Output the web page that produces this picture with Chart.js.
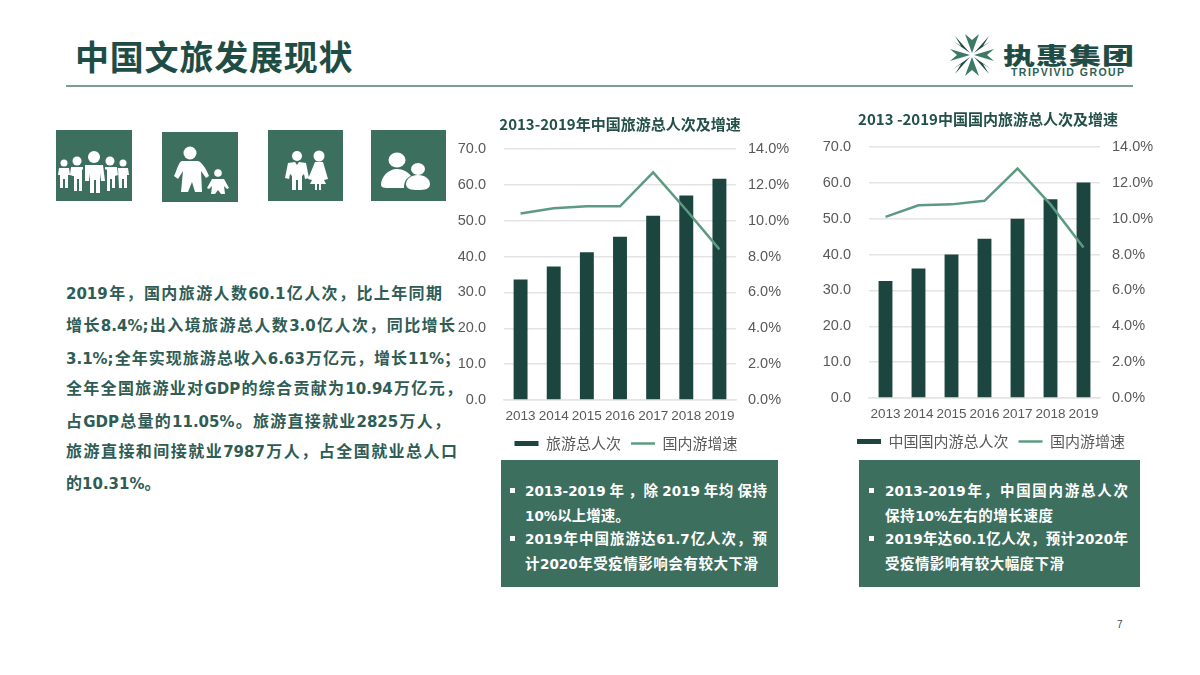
<!DOCTYPE html>
<html>
<head>
<meta charset="utf-8">
<script src="https://cdn.jsdelivr.net/npm/chart.js@4"></script>
<style>
html, body { margin: 0; padding: 0; background: #fff; }
body { position: relative; width: 1200px; height: 675px; overflow: hidden; font-family: "Noto Sans CJK SC", sans-serif; }
.abs { position: absolute; }
#title { left: 75px; top: 32px; font-size: 34px; line-height: 48px; font-weight: 700; color: #1f4d46; letter-spacing: .8px; white-space: nowrap; }
#rule { left: 66px; top: 85px; width: 1067px; height: 2px; background: #7d9c93; }
.icon { background: #3d6f5f; }
.icon svg { display: block; width: 100%; height: 100%; fill: #fff; }
.body-line { position: absolute; left: 66px; height: 22px; line-height: 22px; font-size: 16px; font-weight: 700; color: #2f5c54; white-space: nowrap; text-align: justify; text-align-last: justify; }
.body-line b { font-family: "DejaVu Sans", sans-serif; font-size: 15px; }
.box { position: absolute; top: 460px; height: 127px; background: #3d6f5f; }
.box-line { position: absolute; height: 20px; line-height: 20px; font-size: 14.5px; font-weight: 700; color: #fff; white-space: nowrap; text-align: justify; text-align-last: justify; }
.box-line b { font-family: "DejaVu Sans", sans-serif; font-size: 13.5px; }
.bullet { position: absolute; width: 5px; height: 5px; background: #fff; }
.chart-wrap { position: absolute; }
#logo-cn { left: 1003px; top: 33px; font-size: 32px; line-height: 42px; font-weight: 900; color: #1f4d46; letter-spacing: 1px; white-space: nowrap; transform: scaleY(.72); transform-origin: center; }
#logo-en { left: 1011px; top: 65px; font-family: "Liberation Sans", sans-serif; font-size: 10.5px; line-height: 14px; font-weight: 700; letter-spacing: 1.45px; color: #2e5f55; white-space: nowrap; }
#page { left: 1117px; top: 618px; font-family: "Liberation Sans", sans-serif; font-size: 10px; line-height: 14px; color: #444; }
</style>
</head>
<body>
<div id="title" class="abs">中国文旅发展现状</div>
<div id="rule" class="abs"></div>

<svg class="abs" style="left:949px;top:32px;width:46px;height:46px" viewBox="-23 -23 46 46">
  <g fill="#3d7a66">
    <path d="M0 -2 L-7 -21 L0 -15 L7 -21 Z"/>
    <path d="M0 2 L-7 21 L0 15 L7 21 Z"/>
    <path d="M-2 0 L-22 -6 L-15 0 L-22 6 Z"/>
    <path d="M2 0 L22 -6 L15 0 L22 6 Z"/>
  </g>
  <g fill="#1f4d46">
    <path d="M-2 -2 L-17 -19 L-11 -9 L-19 -14 Z"/>
    <path d="M2 -2 L17 -19 L11 -9 L19 -14 Z"/>
    <path d="M-2 2 L-17 19 L-11 9 L-19 14 Z"/>
    <path d="M2 2 L17 19 L11 9 L19 14 Z"/>
  </g>
</svg>
<div id="logo-cn" class="abs">执惠集团</div>
<div id="logo-en" class="abs">TRIPVIVID GROUP</div>

<div class="abs icon" style="left:56px;top:130px;width:76px;height:71px">
  <svg viewBox="0 0 76 71">
    <circle cx="38" cy="27" r="6"/><path d="M29 35h18l2 16h-4l-1-8v20h-4V50h-2v13h-4V43l-1 8h-4z"/>
    <circle cx="21" cy="31" r="4.5"/><path d="M15 37h12v2l-1 1v21h-3V49h-2v12h-3V46l-1 0-3-1z"/>
    <circle cx="54" cy="31" r="4.5"/><path d="M49 37h12l1 8-3 1v12h-3V49h-2v12h-3V40l-2-1z"/>
    <circle cx="8" cy="33" r="3.5"/><path d="M3 38h10l1 7h-2v13H9V49H7v9H4V45H2z"/>
    <circle cx="67" cy="33" r="3.5"/><path d="M62 38h10l1 7h-2v13h-3V49h-2v9h-3z"/>
  </svg>
</div>
<div class="abs icon" style="left:162px;top:132px;width:76px;height:70px">
  <svg viewBox="0 0 76 70">
    <circle cx="28" cy="21" r="6.5"/><path d="M20 29h16c3 0 9 9 11 15l-3 2-5-7 1 21h-7l-3-10-4 10h-7l2-21-5 8-4-3c3-6 5-15 8-15z"/>
    <circle cx="56" cy="41" r="3.8"/><path d="M50 47h12l5 9-2 1-3-3 1 8h-4l-3-4-3 4h-4l1-8-3 3-2-1z"/>
  </svg>
</div>
<div class="abs icon" style="left:268px;top:130px;width:75px;height:71px">
  <svg viewBox="0 0 75 71">
    <circle cx="29" cy="26" r="5"/><path d="M20 33l7-1 2 3 2-3 7 1 3 15-4 1-1-5-2 2v14h-4V50h-2v10h-4V46l-2-2-1 5-4-1z"/>
    <circle cx="51" cy="26" r="5.5"/><path d="M47 32h8l5 17-4 1 2 4-5 0v6h-2v-6h-2v6h-2v-6h-5l2-4-4-1z"/>
  </svg>
</div>
<div class="abs icon" style="left:371px;top:130px;width:75px;height:71px">
  <svg viewBox="0 0 75 71">
    <ellipse cx="26" cy="30" rx="8.5" ry="7.5"/><path d="M10 55c0-8 7-16 16-16 6 0 11 3 14 7-5 2-7 6-7 12H16c-4 0-6-1-6-3z"/>
    <ellipse cx="47" cy="39" rx="7" ry="6"/><path d="M35 54c0-5 5-9 12-9s12 4 12 9-5 6-12 6-12-1-12-6z"/>
  </svg>
</div>

<div class="body-line" style="top:281px;width:376px"><b>2019</b>年，国内旅游人数<b>60.1</b>亿人次，比上年同期</div>
<div class="body-line" style="top:313px;width:389px">增长<b>8.4%;</b>出入境旅游总人数<b>3.0</b>亿人次，同比增长</div>
<div class="body-line" style="top:346px;width:394px"><b>3.1%;</b>全年实现旅游总收入<b>6.63</b>万亿元，增长<b>11%</b>；</div>
<div class="body-line" style="top:376px;width:396px">全年全国旅游业对<b>GDP</b>的综合贡献为<b>10.94</b>万亿元，</div>
<div class="body-line" style="top:409px;width:384px">占<b>GDP</b>总量的<b>11.05%</b>。旅游直接就业<b>2825</b>万人，</div>
<div class="body-line" style="top:439px;width:391px">旅游直接和间接就业<b>7987</b>万人，占全国就业总人口</div>
<div class="body-line" style="top:471px;width:90px">的<b>10.31%</b>。</div>

<div class="chart-wrap" style="left:450px;top:105px;width:340px;height:356px"><canvas id="chartTotal"></canvas></div>
<div class="chart-wrap" style="left:815px;top:103px;width:346px;height:356px"><canvas id="chartDomestic"></canvas></div>

<div class="box" style="left:501px;width:277px"></div>
<div class="bullet" style="left:510px;top:488px"></div>
<div class="box-line" style="left:525px;top:480px;width:242px"><b>2013-2019</b> 年 ，除 <b>2019</b> 年均 保持</div>
<div class="box-line" style="left:525px;top:505px;width:100px"><b>10%</b>以上增速。</div>
<div class="bullet" style="left:510px;top:536px"></div>
<div class="box-line" style="left:525px;top:528px;width:242px"><b>2019</b>年中国旅游达<b>61.7</b>亿人次，预</div>
<div class="box-line" style="left:525px;top:553px;width:233px">计<b>2020</b>年受疫情影响会有较大下滑</div>

<div class="box" style="left:859px;width:281px"></div>
<div class="bullet" style="left:869px;top:488px"></div>
<div class="box-line" style="left:885px;top:480px;width:243px"><b>2013-2019</b>年，中国国内游总人次</div>
<div class="box-line" style="left:885px;top:505px;width:168px">保持<b>10%</b>左右的增长速度</div>
<div class="bullet" style="left:869px;top:536px"></div>
<div class="box-line" style="left:885px;top:528px;width:243px"><b>2019</b>年达<b>60.1</b>亿人次，预计<b>2020</b>年</div>
<div class="box-line" style="left:885px;top:553px;width:179px">受疫情影响有较大幅度下滑</div>

<div id="page" class="abs">7</div>

<script>
const years = ['2013', '2014', '2015', '2016', '2017', '2018', '2019'];

const totalTrips = [33.6, 37.2, 41.2, 45.5, 51.4, 57.0, 61.7];
const totalGrowth = [10.4, 10.7, 10.8, 10.8, 12.7, 10.6, 8.4];

const domesticTrips = [32.6, 36.1, 40.0, 44.4, 50.0, 55.4, 60.1];
const domesticGrowth = [10.1, 10.75, 10.8, 11.0, 12.8, 10.8, 8.4];

const barColor = '#1c4540';
const lineColor = '#5c9b82';
const tickColor = '#595959';
const gridColor = '#e4e4e4';

function makeChart(id, title, barName, bars, growth, rightWidth, titlePadding, legendShift) {
    return new Chart(document.getElementById(id), {
        data: {
            labels: years,
            datasets: [
                {
                    type: 'line',
                    label: '国内游增速',
                    data: growth,
                    yAxisID: 'y2',
                    borderColor: lineColor,
                    backgroundColor: lineColor,
                    borderWidth: 2.5,
                    pointRadius: 0,
                    tension: 0,
                    order: 1
                },
                {
                    type: 'bar',
                    label: barName,
                    data: bars,
                    yAxisID: 'y',
                    backgroundColor: barColor,
                    barPercentage: 0.42,
                    categoryPercentage: 1,
                    order: 2
                }
            ]
        },
        plugins: [{
            // legend sits a little right of the canvas centre in the original
            id: 'legendShift',
            afterLayout: function (chart) {
                chart.legend.left += legendShift;
                chart.legend.right += legendShift;
            }
        }],
        options: {
            responsive: true,
            maintainAspectRatio: false,
            animation: false,
            layout: {padding: 0},
            plugins: {
                title: {
                    display: true,
                    text: title,
                    color: '#24504a',
                    font: {family: '"Noto Sans CJK SC"', size: 15, weight: '700', lineHeight: 1.2},
                    padding: titlePadding
                },
                legend: {
                    position: 'bottom',
                    reverse: true,
                    labels: {
                        color: tickColor,
                        font: {family: '"Noto Sans CJK SC"', size: 15},
                        usePointStyle: true,
                        pointStyleWidth: 24,
                        boxHeight: 5,
                        padding: 10,
                        generateLabels: function (chart) {
                            const items = Chart.defaults.plugins.legend.labels.generateLabels(chart);
                            items.forEach(function (item) {
                                item.pointStyle = item.datasetIndex === 0 ? 'line' : 'rect';
                            });
                            return items;
                        }
                    }
                },
                tooltip: {enabled: false}
            },
            scales: {
                x: {
                    grid: {display: false, drawTicks: false},
                    border: {color: gridColor, width: 1.5},
                    ticks: {
                        color: tickColor,
                        font: {family: '"Liberation Sans"', size: 13.5},
                        padding: 8,
                        maxRotation: 0,
                        autoSkip: false
                    },
                    afterFit: function (scale) { scale.height = 26; }
                },
                y: {
                    position: 'left',
                    min: 0,
                    max: 70,
                    grid: {color: gridColor, lineWidth: 1.5, drawTicks: false},
                    border: {display: false},
                    ticks: {
                        stepSize: 10,
                        color: tickColor,
                        font: {family: '"Liberation Sans"', size: 14.5},
                        padding: 18,
                        callback: function (v) { return v.toFixed(1); }
                    },
                    afterFit: function (scale) { scale.width = 54; }
                },
                y2: {
                    position: 'right',
                    min: 0,
                    max: 14,
                    grid: {display: false, drawTicks: false},
                    border: {display: false},
                    ticks: {
                        stepSize: 2,
                        color: tickColor,
                        font: {family: '"Liberation Sans"', size: 14.5},
                        padding: 12,
                        callback: function (v) { return v.toFixed(1) + '%'; }
                    },
                    afterFit: function (scale) { scale.width = rightWidth; }
                }
            }
        }
    });
}

makeChart('chartTotal', '2013-2019年中国旅游总人次及增速', '旅游总人次', totalTrips, totalGrowth, 54, {top: 10, bottom: 16}, 6);
makeChart('chartDomestic', '2013 -2019中国国内旅游总人次及增速', '中国国内游总人次', domesticTrips, domesticGrowth, 61, {top: 7, bottom: 19}, 3);
</script>
</body>
</html>
